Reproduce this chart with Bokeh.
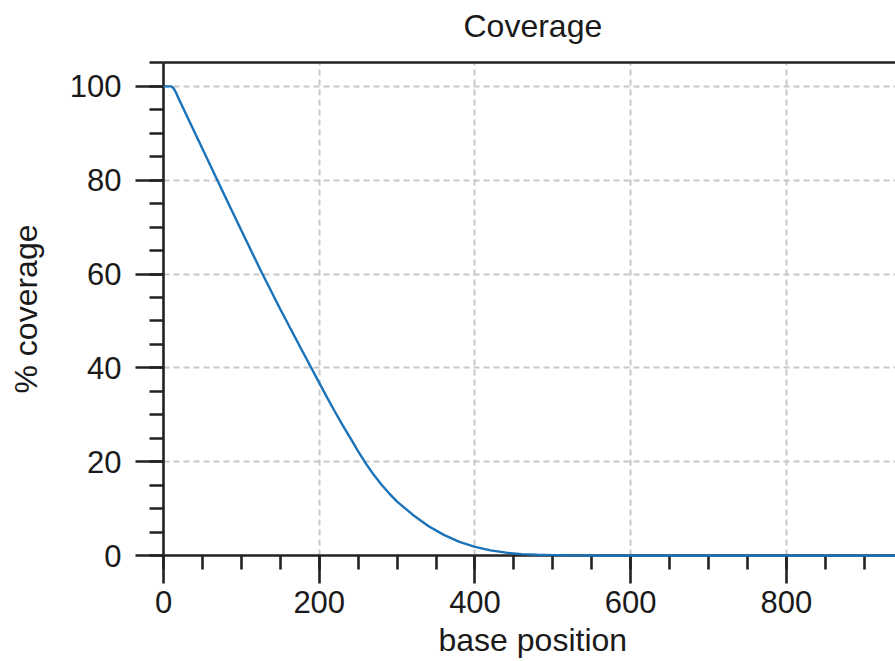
from bokeh.plotting import figure
from bokeh.models import SingleIntervalTicker, FixedTicker, LinearAxis, Title, Range1d
from bokeh.embed import file_html
from bokeh.resources import INLINE

# data
base_position = [0, 10, 13, 16, 20, 50, 80, 100, 125, 150, 175, 200, 210, 220, 230, 240, 250, 260,
                 270, 280, 290, 300, 320, 340, 360, 380, 400, 420, 440, 460, 480, 500, 520, 550,
                 600, 700, 800, 940]
coverage = [100, 100, 99.6, 98.7, 97.2, 86.7, 76.2, 69.3, 60.7, 52.5, 44.6, 36.8, 33.7, 30.7, 27.8,
            25.0, 22.2, 19.6, 17.2, 15.1, 13.2, 11.5, 8.7, 6.3, 4.4, 2.9, 1.85, 1.1, 0.6, 0.3,
            0.15, 0.08, 0.04, 0.01, 0, 0, 0, 0]

x_major = 200
y_major = 20

FONT = "Liberation Sans"
TXT = "#1a1a1a"
AX = "#222222"

p = figure(width=895, height=661, output_backend="svg", toolbar_location=None,
           x_range=Range1d(0, 940), y_range=Range1d(0, 105.1),
           min_border_left=163, min_border_right=0, min_border_top=62, min_border_bottom=105)
p.outline_line_color = None
p.background_fill_color = "white"
p.border_fill_color = "white"

r = p.line(base_position, coverage, line_color="#1a72b8", line_width=2.4)
r.level = "overlay"

# title (left-aligned with offset to center it where the reference has it)
p.title.text = "Coverage"
p.title.text_font = FONT
p.title.text_font_size = "32px"
p.title.text_font_style = "normal"
p.title.text_color = TXT
p.title.align = "left"
p.title.offset = 300
p.title.standoff = 0

# axes
for ax in (p.xaxis[0], p.yaxis[0]):
    ax.axis_line_color = AX
    ax.axis_line_width = 2.6
    ax.major_tick_line_color = AX
    ax.major_tick_line_width = 2.6
    ax.minor_tick_line_color = AX
    ax.minor_tick_line_width = 2.6
    ax.major_tick_out = 28
    ax.major_tick_in = 0
    ax.minor_tick_out = 14
    ax.minor_tick_in = 0
    ax.major_label_text_font = FONT
    ax.major_label_text_font_size = "31px"
    ax.major_label_text_color = TXT
    ax.axis_label_text_font = FONT
    ax.axis_label_text_font_size = "32px"
    ax.axis_label_text_font_style = "normal"
    ax.axis_label_text_color = TXT

p.xaxis[0].ticker = SingleIntervalTicker(interval=x_major, num_minor_ticks=4)
p.yaxis[0].ticker = SingleIntervalTicker(interval=y_major, num_minor_ticks=4)
p.yaxis[0].axis_label = "% coverage"
p.yaxis[0].major_label_standoff = 14
p.yaxis[0].axis_label_standoff = 23
p.xaxis[0].major_label_standoff = 7

# x axis label placed as a below title so it can be shifted horizontally
xl = Title(text="base position", text_font=FONT, text_font_size="32px", text_font_style="normal",
           text_color=TXT, align="left", offset=275, standoff=8)
p.add_layout(xl, "below")

# top border line (invisible tick only reserves space under the title)
top = LinearAxis(ticker=FixedTicker(ticks=[500]), axis_line_color=AX, axis_line_width=2.6,
                 major_tick_out=19, major_tick_in=0, major_tick_line_color=None,
                 minor_tick_out=0, major_label_text_font_size="1px",
                 major_label_text_color=None, major_label_standoff=0)
p.add_layout(top, "above")

# grid
for g in (p.xgrid[0], p.ygrid[0]):
    g.grid_line_color = "#c8c8c8"
    g.grid_line_width = 2
    g.grid_line_dash = "6 4"

open("out.html", "w").write(file_html(p, INLINE))
